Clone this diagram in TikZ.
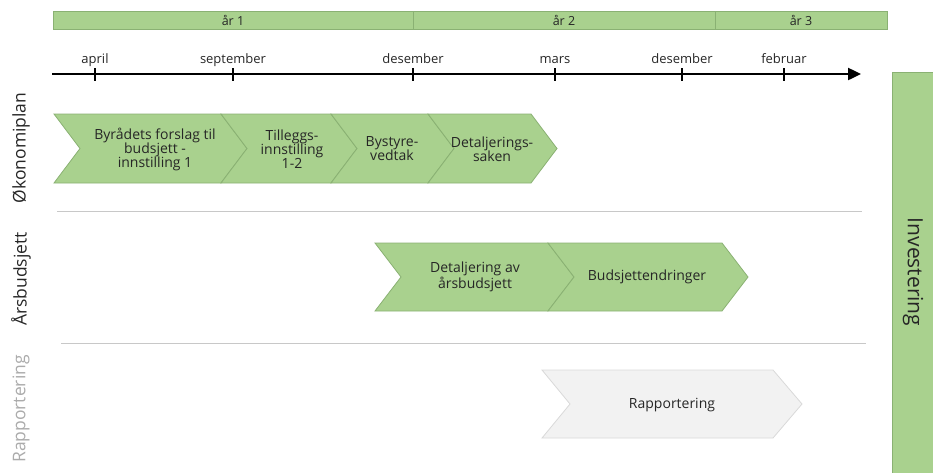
\documentclass[tikz,border=0pt]{standalone}
\usepackage{fontspec}
\setmainfont{Open Sans}
\usepackage{tikz}
\usetikzlibrary{arrows.meta}

\definecolor{fasegronn}{HTML}{A9D18E}
\definecolor{fasekant}{HTML}{8AB173}
\definecolor{rapportfyll}{HTML}{F2F2F2}
\definecolor{rapportkant}{HTML}{D9D9D9}
\definecolor{skillelinje}{HTML}{C8C8C8}
\definecolor{teksten}{HTML}{262626}

\tikzset{
   aarbar/.style={draw=fasekant, fill=fasegronn, line width=0.8pt},
   fase/.style={draw=fasekant, fill=fasegronn, line width=0.8pt},
   rapport/.style={draw=rapportkant, fill=rapportfyll, line width=0.8pt},
   fasetekst/.style={align=center, text=teksten, font=\fontsize{14}{14}\selectfont},
   maanad/.style={anchor=base, text=teksten, font=\fontsize{13}{14}\selectfont},
   radnavn/.style={rotate=90, font=\fontsize{17.5}{18}\selectfont}
}

\begin{document}
\begin{tikzpicture}[x=1pt, y=-1pt]
      \useasboundingbox (0,0) rectangle (933,472);

      % aar
      \draw [aarbar] (53,11) rectangle (413,29);
      \draw [aarbar] (413,11) rectangle (715,29);
      \draw [aarbar] (715,11) rectangle (887,29);
      \node (aar1) at (233,20) [text=teksten, font=\fontsize{12.5}{13}\selectfont] {år 1};
      \node (aar2) at (564,20) [text=teksten, font=\fontsize{12.5}{13}\selectfont] {år 2};
      \node (aar3) at (801,20) [text=teksten, font=\fontsize{12.5}{13}\selectfont] {år 3};

      % tidslinje
      \coordinate (start) at (52,74);
      \coordinate (slutt) at (861,74);
      \draw [line width=2.4pt, -{Triangle[length=13pt, width=12pt]}] (start) -- (slutt);
      \foreach \x/\navn/\mnd in {95/apr/april, 233/sep/september, 413/des1/desember,
            555/mar/mars, 682/des2/desember, 784/feb/februar} {
         \draw [line width=1.4pt] (\x,68) -- (\x,81);
         \node (\navn) at (\x,63) [maanad] {\mnd};
      }

      % okonomiplan
      \foreach \a/\b/\tx/\navn/\tekst in {
            54/221/155/byraad/{Byrådets forslag til\\budsjett -\\innstilling 1},
            221/331/292/tillegg/{Tilleggs-\\innstilling\\1-2},
            331/428/392/bystyre/{Bystyre-\\vedtak},
            428/531/492/detsak/{Detaljerings-\\saken}} {
         \draw [fase] (\a,114) -- (\b,114) -- (\b+26,148.5) -- (\b,183)
            -- (\a,183) -- (\a+26,148.5) -- cycle;
         \node (\navn) at (\tx,149) [fasetekst] {\tekst};
      }

      % aarsbudsjett
      \foreach \a/\b/\tx/\navn/\tekst in {
            375/548/475/detaar/{Detaljering av\\årsbudsjett},
            548/722/647/endring/{Budsjettendringer}} {
         \draw [fase] (\a,243) -- (\b,243) -- (\b+26,277) -- (\b,311)
            -- (\a,311) -- (\a+26,277) -- cycle;
         \node (\navn) at (\tx,277) [fasetekst] {\tekst};
      }

      % rapportering
      \draw [rapport] (542,370) -- (773,370) -- (802,404) -- (773,438)
         -- (542,438) -- (570,404) -- cycle;
      \node (rapp) at (672,405) [fasetekst] {Rapportering};

      % skillelinjer
      \draw [skillelinje, line width=1pt] (57,211) -- (862,211);
      \draw [skillelinje, line width=1pt] (61,343) -- (866,343);

      % radnavn
      \node (okplan) at (21,148) [radnavn, text=teksten] {Økonomiplan};
      \node (aarsb) at (21,279) [radnavn, text=teksten] {Årsbudsjett};
      \node (rappnavn) at (21,409) [radnavn, text=black!33] {Rapportering};

      % investering
      \draw [aarbar] (892,72) rectangle (940,480);
      \node (invest) at (913,272) [rotate=-90, text=teksten,
         font=\fontsize{21}{22}\selectfont] {Investering};
   \end{tikzpicture}
\end{document}
